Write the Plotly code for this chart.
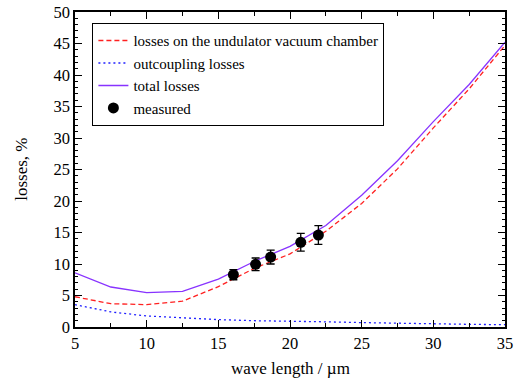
import plotly.graph_objects as go

# model wavelengths (µm) and loss components (%)
wavelength = [5, 7.5, 10, 12.5, 15, 17.5, 20, 22.5, 25, 27.5, 30, 32.5, 35]
chamber_losses = [4.8, 3.7, 3.55, 4.1, 6.4, 9.3, 11.6, 15.2, 19.6, 25.1, 31.6, 37.8, 44.7]
outcoupling_losses = [3.55, 2.4, 1.75, 1.43, 1.17, 1.0, 0.95, 0.82, 0.7, 0.58, 0.48, 0.42, 0.37]
total_losses = [8.6, 6.35, 5.45, 5.65, 7.6, 10.4, 12.8, 16.1, 20.9, 26.4, 32.6, 38.5, 45.2]

# measured points with uncertainties
meas_wl = [16.05, 17.6, 18.65, 20.75, 21.98]
meas_loss = [8.3, 9.95, 11.1, 13.45, 14.6]
meas_err = [0.8, 1.0, 1.1, 1.4, 1.5]

font_family = "Liberation Serif"

fig = go.Figure()
fig.add_trace(go.Scatter(
    x=wavelength, y=chamber_losses, mode="lines",
    name="losses on the undulator vacuum chamber",
    line=dict(color="#ff2020", width=1.3, dash="5px,3px")))
fig.add_trace(go.Scatter(
    x=wavelength, y=outcoupling_losses, mode="lines",
    name="outcoupling losses",
    line=dict(color="#2020ff", width=1.3, dash="2px,3px")))
fig.add_trace(go.Scatter(
    x=wavelength, y=total_losses, mode="lines",
    name="total losses",
    line=dict(color="#8833ff", width=1.3)))
fig.add_trace(go.Scatter(
    x=meas_wl, y=meas_loss, mode="markers", name="measured",
    marker=dict(color="black", size=11, symbol="circle"),
    error_y=dict(type="data", array=meas_err, color="black",
                 thickness=1.3, width=4)))

axis_common = dict(
    showline=True, linecolor="black", linewidth=1.5, mirror="allticks",
    ticks="inside", ticklen=7, tickwidth=1.3, tickcolor="black",
    showgrid=False, zeroline=False, automargin=False,
    tickfont=dict(family=font_family, size=16.5, color="black"),
)

fig.update_xaxes(
    range=[5, 35], dtick=5, tick0=5,
    minor=dict(ticks="inside", dtick=2.5, ticklen=4, tickcolor="black", tickwidth=1),
    **axis_common)
fig.update_yaxes(
    range=[0, 50], dtick=5,
    minor=dict(ticks="inside", dtick=1, ticklen=3, tickcolor="black", tickwidth=1),
    **axis_common)

title_font = dict(family=font_family, size=17, color="black")
fig.add_annotation(text="wave length / µm", xref="paper", yref="paper",
                   x=0.5, y=-0.132, xanchor="center", yanchor="middle",
                   showarrow=False, font=title_font)
fig.add_annotation(text="losses, %", xref="paper", yref="paper",
                   x=-0.125, y=0.5, xanchor="center", yanchor="middle",
                   textangle=-90, showarrow=False, font=title_font)

fig.update_layout(
    width=520, height=383,
    margin=dict(l=75, r=15, t=12, b=56),
    paper_bgcolor="white", plot_bgcolor="white",
    font=dict(family=font_family, size=15, color="black"),
    showlegend=True,
    legend=dict(
        x=0.04, y=0.965, xanchor="left", yanchor="top",
        bordercolor="black", borderwidth=1.2, bgcolor="white",
        font=dict(family=font_family, size=15, color="black"),
        tracegroupgap=0, itemwidth=30),
)

fig.write_html("out.html")
